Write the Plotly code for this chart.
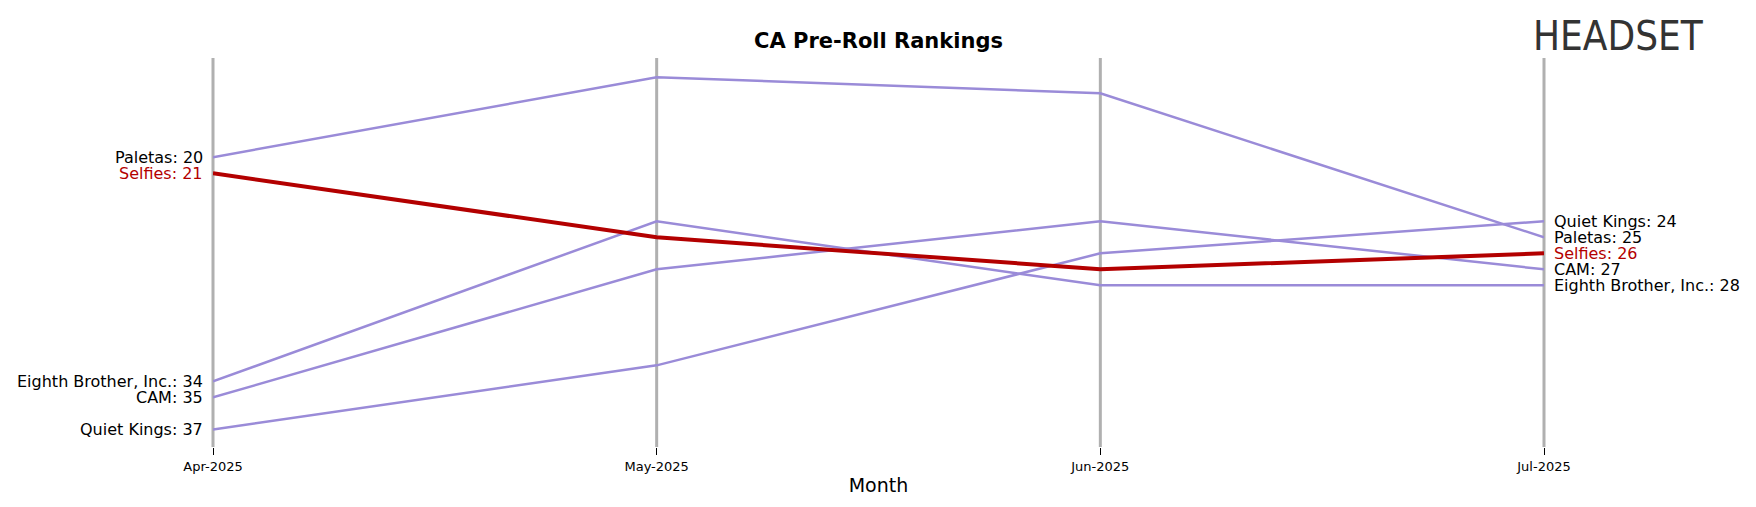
import plotly.graph_objects as go

months = ["Apr-2025", "May-2025", "Jun-2025", "Jul-2025"]
brands = ["Paletas", "Eighth Brother, Inc.", "CAM", "Quiet Kings", "Selfies"]
ranks = {
    "Paletas": [20, 15, 16, 25],
    "Eighth Brother, Inc.": [34, 24, 28, 28],
    "CAM": [35, 27, 24, 27],
    "Quiet Kings": [37, 33, 26, 24],
    "Selfies": [21, 25, 27, 26],
}
highlight = "Selfies"

xs = list(range(len(months)))
fig = go.Figure()

# month guide lines (paper coords so the edge ones are not clipped)
for i in xs:
    px = i / (len(months) - 1)
    fig.add_shape(type="line", xref="paper", yref="paper", x0=px, x1=px, y0=0, y1=1,
                  line=dict(color="#b0b0b0", width=3), layer="below")

for b in brands:
    hi = b == highlight
    fig.add_trace(go.Scatter(
        x=xs, y=ranks[b], mode="lines", name=b, cliponaxis=False,
        line=dict(color="#b30000" if hi else "#9a8bd8", width=4 if hi else 2.5),
        showlegend=False))
    col = "#b30000" if hi else "black"
    fig.add_annotation(x=0, y=ranks[b][0], text=f"{b}: {ranks[b][0]}", xanchor="right",
                       xshift=-8, showarrow=False, font=dict(size=16, color=col))
    fig.add_annotation(x=3, y=ranks[b][-1], text=f"{b}: {ranks[b][-1]}", xanchor="left",
                       xshift=8, showarrow=False, font=dict(size=16, color=col))

fig.add_annotation(xref="paper", yref="paper", x=0.99, y=1.12, yanchor="top", text="HEADSET",
                   showarrow=False, font=dict(size=40, color="#333333", family="DejaVu Sans Condensed"),
                   xanchor="left")

fig.update_layout(
    width=1756, height=507,
    plot_bgcolor="white", paper_bgcolor="white",
    font=dict(family="DejaVu Sans", color="black"),
    title=dict(text="<b>CA Pre-Roll Rankings</b>", x=0.5, xref="paper", y=0.95,
               font=dict(size=21)),
    margin=dict(l=205, r=220, t=50, b=68),
    xaxis=dict(range=[0, 3], tickvals=xs, ticktext=months, showgrid=False, zeroline=False,
               ticks="outside", ticklen=7, tickcolor="black", tickfont=dict(size=13),
               title=dict(text="Month", font=dict(size=19), standoff=6)),
    yaxis=dict(range=[38.1, 13.8], showticklabels=False, showgrid=False, zeroline=False),
)

fig.write_html("out.html")
